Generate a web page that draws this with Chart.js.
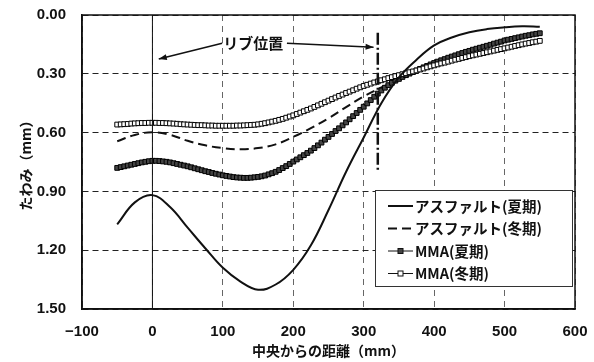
<!DOCTYPE html>
<html>
<head>
<meta charset="utf-8">
<script src="https://cdn.jsdelivr.net/npm/chart.js@4.4.1/dist/chart.umd.min.js"></script>
<style>
  html, body { margin: 0; padding: 0; background: #fff; }
</style>
</head>
<body>
<canvas id="chart" width="594" height="362"></canvas>
<script>
// distance from centre (mm)
const distAsphalt = [-50, -25, 0, 25, 50, 75, 100, 125, 150, 175, 200, 225, 250, 275, 300, 325, 350, 375, 400, 425, 450, 475, 500, 525, 550]
const asphaltSummer = [1.068, 0.956, 0.919, 0.98, 1.085, 1.19, 1.29, 1.36, 1.402, 1.375, 1.30, 1.175, 0.995, 0.80, 0.625, 0.45, 0.318, 0.228, 0.155, 0.115, 0.088, 0.072, 0.063, 0.058, 0.06]
const asphaltWinter = [0.644, 0.612, 0.598, 0.611, 0.642, 0.665, 0.679, 0.685, 0.679, 0.66, 0.622, 0.577, 0.527, 0.47, 0.415, 0.37, 0.33, 0.285, 0.25, 0.215, 0.185, 0.158, 0.133, 0.112, 0.094]

const distMMA = [-50, -45, -40, -35, -30, -25, -20, -15, -10, -5,
  0, 5, 10, 15, 20, 25, 30, 35, 40, 45,
  50, 55, 60, 65, 70, 75, 80, 85, 90, 95,
  100, 105, 110, 115, 120, 125, 130, 135, 140, 145,
  150, 155, 160, 165, 170, 175, 180, 185, 190, 195,
  200, 205, 210, 215, 220, 225, 230, 235, 240, 245,
  250, 255, 260, 265, 270, 275, 280, 285, 290, 295,
  300, 305, 310, 315, 320, 325, 330, 335, 340, 345,
  350, 355, 360, 365, 370, 375, 380, 385, 390, 395,
  400, 405, 410, 415, 420, 425, 430, 435, 440, 445,
  450, 455, 460, 465, 470, 475, 480, 485, 490, 495,
  500, 505, 510, 515, 520, 525, 530, 535, 540, 545, 550]
const mmaSummer = [0.780, 0.776, 0.772, 0.768, 0.764, 0.760, 0.756, 0.752, 0.749, 0.746,
  0.744, 0.744, 0.745, 0.747, 0.749, 0.752, 0.756, 0.760, 0.764, 0.768,
  0.772, 0.777, 0.782, 0.787, 0.792, 0.797, 0.801, 0.806, 0.810, 0.814,
  0.818, 0.821, 0.824, 0.827, 0.829, 0.830, 0.831, 0.831, 0.830, 0.828,
  0.826, 0.823, 0.819, 0.813, 0.807, 0.800, 0.791, 0.781, 0.771, 0.760,
  0.748, 0.737, 0.726, 0.715, 0.704, 0.692, 0.679, 0.665, 0.651, 0.636,
  0.622, 0.607, 0.592, 0.578, 0.563, 0.548, 0.532, 0.516, 0.500, 0.484,
  0.468, 0.451, 0.434, 0.417, 0.401, 0.385, 0.371, 0.358, 0.346, 0.335,
  0.326, 0.316, 0.307, 0.299, 0.291, 0.283, 0.275, 0.267, 0.260, 0.252,
  0.245, 0.238, 0.231, 0.225, 0.218, 0.212, 0.206, 0.200, 0.194, 0.188,
  0.183, 0.177, 0.172, 0.167, 0.162, 0.157, 0.152, 0.146, 0.141, 0.136,
  0.130, 0.126, 0.122, 0.118, 0.114, 0.110, 0.106, 0.103, 0.099, 0.096, 0.093]
const mmaWinter = [0.559, 0.558, 0.557, 0.556, 0.554, 0.553, 0.552, 0.551, 0.551, 0.550,
  0.550, 0.550, 0.551, 0.551, 0.552, 0.553, 0.554, 0.555, 0.557, 0.558,
  0.559, 0.560, 0.561, 0.562, 0.562, 0.563, 0.564, 0.564, 0.565, 0.565,
  0.565, 0.565, 0.565, 0.565, 0.564, 0.564, 0.563, 0.562, 0.561, 0.560,
  0.558, 0.555, 0.552, 0.548, 0.544, 0.540, 0.535, 0.530, 0.524, 0.518,
  0.512, 0.505, 0.498, 0.491, 0.484, 0.477, 0.469, 0.461, 0.453, 0.445,
  0.437, 0.429, 0.421, 0.413, 0.406, 0.398, 0.391, 0.384, 0.376, 0.369,
  0.362, 0.356, 0.350, 0.344, 0.339, 0.333, 0.328, 0.322, 0.317, 0.312,
  0.307, 0.302, 0.297, 0.292, 0.288, 0.283, 0.278, 0.273, 0.267, 0.262,
  0.257, 0.252, 0.247, 0.243, 0.238, 0.233, 0.228, 0.224, 0.219, 0.215,
  0.210, 0.206, 0.202, 0.198, 0.194, 0.190, 0.186, 0.182, 0.178, 0.174,
  0.170, 0.166, 0.162, 0.158, 0.154, 0.150, 0.146, 0.143, 0.139, 0.136, 0.132]

const xTicks = [-100, 0, 100, 200, 300, 400, 500, 600]
const yTicks = [0.0, 0.3, 0.6, 0.9, 1.2, 1.5]

// rib position marker
const ribX = 320
const ribSpan = [0.09, 0.80]
const ribLabel = 'リブ位置'
const ribLabelAt = [143, 0.145]
const arrowLeft = { from: [99, 0.144], to: [9, 0.225] }
const arrowRight = { from: [191, 0.144], to: [314, 0.164] }

const INK = '#111'
const NUM_FONT = '"Liberation Sans", Arial, sans-serif'
const JP_FONT = '"Noto Sans CJK JP", "Noto Sans", sans-serif'

const pts = (xs, ys) => xs.map((x, i) => ({ x, y: ys[i] }))

function arrow(ctx, x1, y1, x2, y2) {
  ctx.beginPath()
  ctx.moveTo(x1, y1)
  ctx.lineTo(x2, y2)
  ctx.stroke()
  const a = Math.atan2(y2 - y1, x2 - x1)
  ctx.beginPath()
  ctx.moveTo(x2, y2)
  ctx.lineTo(x2 - 8 * Math.cos(a) + 3 * Math.sin(a), y2 - 8 * Math.sin(a) - 3 * Math.cos(a))
  ctx.lineTo(x2 - 8 * Math.cos(a) - 3 * Math.sin(a), y2 - 8 * Math.sin(a) + 3 * Math.cos(a))
  ctx.closePath()
  ctx.fill()
}

const overlay = {
  id: 'overlay',
  afterDatasetsDraw(chart) {
    const { ctx, scales: { x, y } } = chart
    ctx.save()
    ctx.strokeStyle = INK
    ctx.fillStyle = INK

    // centre line
    ctx.lineWidth = 1
    ctx.beginPath()
    ctx.moveTo(x.getPixelForValue(0), y.top)
    ctx.lineTo(x.getPixelForValue(0), y.bottom)
    ctx.stroke()

    // rib line (dash-dot)
    ctx.lineWidth = 2.5
    ctx.setLineDash([12, 3, 2, 3])
    ctx.beginPath()
    ctx.moveTo(x.getPixelForValue(ribX), y.getPixelForValue(ribSpan[0]))
    ctx.lineTo(x.getPixelForValue(ribX), y.getPixelForValue(ribSpan[1]))
    ctx.stroke()
    ctx.setLineDash([])

    // label and arrows
    ctx.lineWidth = 1.5
    for (const a of [arrowLeft, arrowRight]) {
      arrow(ctx, x.getPixelForValue(a.from[0]), y.getPixelForValue(a.from[1]),
        x.getPixelForValue(a.to[0]), y.getPixelForValue(a.to[1]))
    }
    ctx.font = 'bold 15px ' + JP_FONT
    ctx.textAlign = 'center'
    ctx.textBaseline = 'middle'
    ctx.fillText(ribLabel, x.getPixelForValue(ribLabelAt[0]), y.getPixelForValue(ribLabelAt[1]))

    // box round the plot
    ctx.lineWidth = 1.5
    ctx.strokeRect(chart.chartArea.left, chart.chartArea.top,
      chart.chartArea.right - chart.chartArea.left, chart.chartArea.bottom - chart.chartArea.top)
    ctx.restore()
  },
  afterDraw(chart) {
    const { ctx, chartArea } = chart
    const bx = chartArea.right - 200, by = chartArea.top + 175, bw = 197, bh = 96
    ctx.save()
    ctx.fillStyle = '#fff'
    ctx.fillRect(bx, by, bw, bh)
    ctx.strokeStyle = '#333'
    ctx.lineWidth = 1
    ctx.strokeRect(bx + 0.5, by + 0.5, bw, bh)
    ctx.font = 'bold 14.5px ' + JP_FONT
    ctx.textBaseline = 'middle'
    ctx.textAlign = 'left'
    chart.data.datasets.forEach((ds, i) => {
      const ry = by + 16 + i * 22.5
      const lx = bx + 13, lw = 25
      ctx.strokeStyle = INK
      ctx.lineWidth = ds.borderWidth
      ctx.setLineDash(ds.borderDash || [])
      ctx.beginPath()
      ctx.moveTo(lx, ry)
      ctx.lineTo(lx + lw, ry)
      ctx.stroke()
      ctx.setLineDash([])
      if (ds.pointRadius) {
        ctx.fillStyle = ds.pointBackgroundColor
        ctx.fillRect(lx + lw / 2 - 2.5, ry - 2.5, 5, 5)
        ctx.lineWidth = 1
        ctx.strokeRect(lx + lw / 2 - 2.5, ry - 2.5, 5, 5)
      }
      ctx.fillStyle = INK
      ctx.fillText(ds.label, lx + lw + 2, ry)
    })
    ctx.restore()
  }
}

new Chart(document.getElementById('chart'), {
  type: 'line',
  data: {
    datasets: [
      {
        label: 'アスファルト(夏期)',
        data: pts(distAsphalt, asphaltSummer),
        borderColor: INK,
        borderWidth: 2,
        pointRadius: 0,
        tension: 0.4,
        order: 0
      },
      {
        label: 'アスファルト(冬期)',
        data: pts(distAsphalt, asphaltWinter),
        borderColor: INK,
        borderWidth: 2,
        borderDash: [9, 5],
        pointRadius: 0,
        tension: 0.4,
        order: 3
      },
      {
        label: 'MMA(夏期)',
        data: pts(distMMA, mmaSummer),
        borderColor: INK,
        borderWidth: 1,
        pointStyle: 'rect',
        pointRadius: 3.4,
        pointBorderWidth: 1,
        pointBorderColor: '#000',
        pointBackgroundColor: '#444',
        order: 2
      },
      {
        label: 'MMA(冬期)',
        data: pts(distMMA, mmaWinter),
        borderColor: INK,
        borderWidth: 1,
        pointStyle: 'rect',
        pointRadius: 3.4,
        pointBorderWidth: 1,
        pointBorderColor: '#000',
        pointBackgroundColor: '#fff',
        order: 1
      }
    ]
  },
  options: {
    responsive: false,
    animation: false,
    events: [],
    layout: { padding: { left: 8, top: 15, right: 19, bottom: 0 } },
    plugins: {
      legend: { display: false },
      tooltip: { enabled: false }
    },
    scales: {
      x: {
        type: 'linear',
        min: -100,
        max: 600,
        afterBuildTicks: s => { s.ticks = xTicks.map(v => ({ value: v })) },
        afterFit: s => { s.height = 53; s.paddingLeft = 0; s.paddingRight = 0 },
        ticks: {
          padding: 14,
          color: INK,
          font: { family: NUM_FONT, size: 15, weight: 'bold' },
          callback: v => v < 0 ? '−' + Math.abs(v) : String(v)
        },
        grid: { color: '#666', lineWidth: 1, drawTicks: false },
        border: { display: true, color: INK, width: 1.5, dash: [6, 5] },
        title: {
          display: true,
          text: '中央からの距離（mm）',
          color: INK,
          font: { family: JP_FONT, size: 14, weight: 'bold' },
          padding: { top: 0, bottom: 3 }
        }
      },
      y: {
        type: 'linear',
        reverse: true,
        min: 0,
        max: 1.5,
        afterBuildTicks: s => { s.ticks = yTicks.map(v => ({ value: v })) },
        afterFit: s => { s.width = 74; s.paddingTop = 0; s.paddingBottom = 0 },
        ticks: {
          padding: 16,
          color: INK,
          font: { family: NUM_FONT, size: 15, weight: 'bold' },
          callback: v => Number(v).toFixed(2)
        },
        grid: { color: '#222', lineWidth: 1, drawTicks: false },
        border: { display: true, color: INK, width: 1.5, dash: [6, 4] },
        title: {
          display: true,
          text: 'たわみ（mm）',
          color: INK,
          font: { family: JP_FONT, size: 14, weight: 'bold' },
          padding: { top: 9, bottom: 0 }
        }
      }
    }
  },
  plugins: [overlay]
})
</script>
</body>
</html>
